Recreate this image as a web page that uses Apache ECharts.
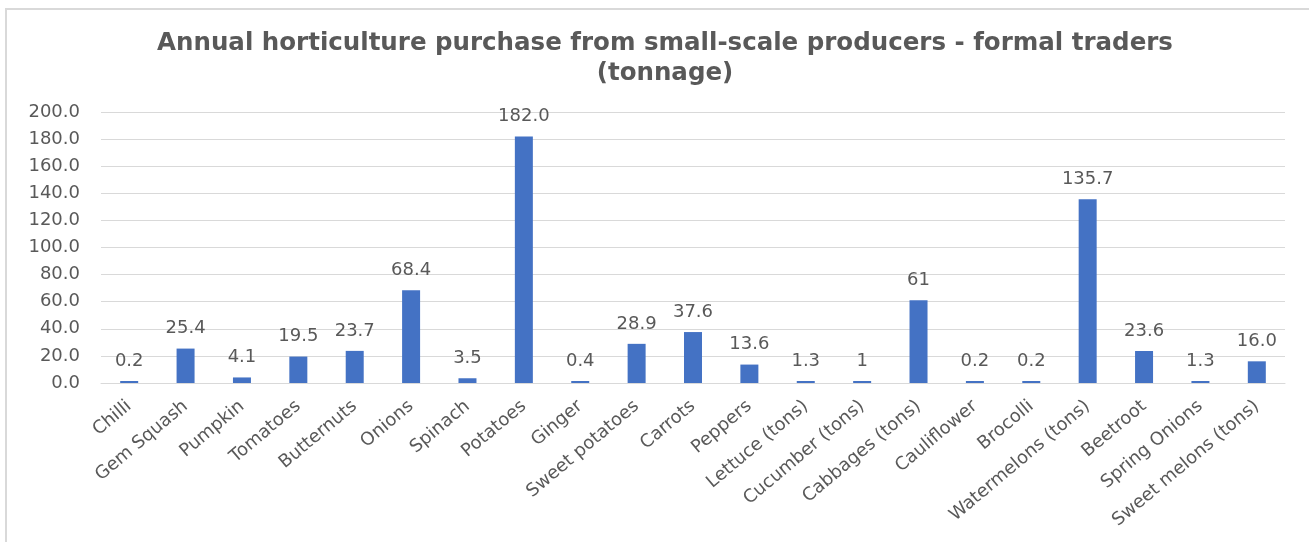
<!DOCTYPE html>
<html>
<head>
<meta charset="utf-8">
<title>Annual horticulture purchase from small-scale producers - formal traders (tonnage)</title>
<script src="https://cdn.jsdelivr.net/npm/echarts@6/dist/echarts.min.js"></script>
<style>
  html, body { margin: 0; padding: 0; background: #ffffff; }
  #chart { width: 1309px; height: 542px; }
</style>
</head>
<body>
<div id="chart"></div>
<script>
// Produce categories bought from small-scale producers
const categories = [
  'Chilli', 'Gem Squash', 'Pumpkin', 'Tomatoes', 'Butternuts', 'Onions',
  'Spinach', 'Potatoes', 'Ginger', 'Sweet potatoes', 'Carrots', 'Peppers',
  'Lettuce (tons)', 'Cucumber (tons)', 'Cabbages (tons)', 'Cauliflower',
  'Brocolli', 'Watermelons (tons)', 'Beetroot', 'Spring Onions',
  'Sweet melons (tons)'
];

// Annual tonnage per category
const tonnage = [
  0.2, 25.4, 4.1, 19.5, 23.7, 68.4,
  3.5, 182.0, 0.4, 28.9, 37.6, 13.6,
  1.3, 1, 61, 0.2,
  0.2, 135.7, 23.6, 1.3,
  16.0
];

// Value labels as printed above each bar
const valueLabels = [
  '0.2', '25.4', '4.1', '19.5', '23.7', '68.4',
  '3.5', '182.0', '0.4', '28.9', '37.6', '13.6',
  '1.3', '1', '61', '0.2',
  '0.2', '135.7', '23.6', '1.3',
  '16.0'
];

// Value axis ticks
const yTicks = { min: 0, max: 200, step: 20 };

const TEXT = '#595959';
const GRID = '#d9d9d9';
const BAR = '#4472c4';
const FONT = 'DejaVu Sans';

const chart = echarts.init(document.getElementById('chart'), null, { renderer: 'canvas' });

chart.setOption({
  animation: false,
  backgroundColor: '#ffffff',
  graphic: [{
    type: 'rect',
    shape: { x: 6, y: 9, width: 1320, height: 560 },
    style: { fill: 'none', stroke: GRID, lineWidth: 2 },
    silent: true
  }],
  title: {
    text: 'Annual horticulture purchase from small-scale producers - formal traders\n(tonnage)',
    left: 660,
    top: 24,
    textAlign: 'center',
    textStyle: {
      fontFamily: FONT,
      fontWeight: 'bold',
      fontSize: 24.5,
      lineHeight: 30,
      color: TEXT
    }
  },
  grid: {
    left: 101,
    right: 24,
    top: 112,
    bottom: 159,
    containLabel: false
  },
  xAxis: {
    type: 'category',
    data: categories,
    axisLine: { show: true, lineStyle: { color: GRID, width: 1 } },
    axisTick: { show: false },
    axisLabel: {
      interval: 0,
      rotate: 40,
      margin: 21,
      fontFamily: FONT,
      fontSize: 18,
      color: TEXT
    }
  },
  yAxis: {
    type: 'value',
    min: yTicks.min,
    max: yTicks.max,
    interval: yTicks.step,
    axisLine: { show: false },
    axisTick: { show: false },
    splitLine: { lineStyle: { color: GRID, width: 1 } },
    axisLabel: {
      margin: 21,
      fontFamily: FONT,
      fontSize: 18,
      color: TEXT,
      formatter: v => v.toFixed(1)
    }
  },
  series: [{
    type: 'bar',
    data: tonnage,
    barWidth: 18,
    barMinHeight: 2,
    itemStyle: { color: BAR },
    label: {
      show: true,
      position: 'top',
      distance: 11,
      fontFamily: FONT,
      fontSize: 18,
      color: TEXT,
      formatter: p => valueLabels[p.dataIndex]
    }
  }]
});
</script>
</body>
</html>
